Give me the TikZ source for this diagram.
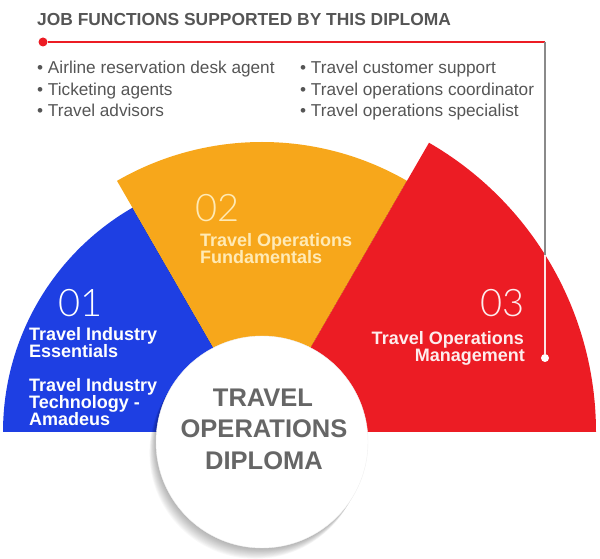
\documentclass[tikz,border=0pt]{standalone}
\usepackage{fontspec}
\setmainfont{Liberation Sans}
\newfontfamily\thinfont{Lato Light}
\usetikzlibrary{calc}
\definecolor{cblue}{HTML}{1E3FE3}
\definecolor{corange}{HTML}{F7A71B}
\definecolor{cred}{HTML}{EC1C24}
\definecolor{ctext}{HTML}{555555}
\definecolor{cpale}{HTML}{FFEAB5}
\definecolor{chub}{HTML}{666666}
\definecolor{cline}{HTML}{8A8A8A}
\tikzset{
  headtext/.style={font=\fontsize{17.4}{20}\selectfont\bfseries, text=ctext, anchor=base west, inner sep=0pt},
  itemtext/.style={font=\fontsize{17.2}{20}\selectfont, text=ctext, anchor=base west, inner sep=0pt},
  numtext/.style={font=\fontsize{38}{40}\thinfont\selectfont, inner sep=0pt},
  labtext/.style={font=\fontsize{18}{17}\selectfont\bfseries, inner sep=0pt},
  hubtext/.style={font=\fontsize{25.5}{30}\selectfont\bfseries, text=chub, anchor=base, inner sep=0pt},
  reddot/.style={circle, fill=cred, minimum size=9pt, inner sep=0pt},
  whitedot/.style={circle, fill=white, minimum size=8pt, inner sep=0pt},
}
\begin{document}
\begin{tikzpicture}[x=1pt,y=1pt]
\useasboundingbox (0,0) rectangle (600,559);
\coordinate (O) at (262,127);
\coordinate (C) at (262,117);

% blue sector
\fill[cblue] (O) -- ++(180:259pt) arc[start angle=180,end angle=120,radius=259pt] -- cycle;
% shadow of orange on blue
\begin{scope}
  \clip (O) -- ++(180:259pt) arc[start angle=180,end angle=120,radius=259pt] -- cycle;
  \foreach \k in {1,...,12} {
    \fill[black,opacity=0.09,shift={(210:1.1*\k pt)}] (O) -- ++(120:400pt) -- ++(400pt,0pt) -- cycle;
  }
\end{scope}
% orange sector
\fill[corange] (O) -- ++(120:290pt) arc[start angle=120,end angle=60,radius=290pt] -- cycle;
% shadow of red on orange
\begin{scope}
  \clip (O) -- ++(120:290pt) arc[start angle=120,end angle=60,radius=290pt] -- cycle;
  \foreach \k in {1,...,12} {
    \fill[black,opacity=0.075,shift={(150:1.3*\k pt)}] (O) -- ++(60:400pt) -- ++(400pt,0pt) -- cycle;
  }
\end{scope}
% red sector
\fill[cred] (O) -- ++(60:334pt) arc[start angle=60,end angle=0,radius=334pt] -- cycle;

% hub circle with soft shadow
\foreach \k in {1,...,12} {
  \fill[black,opacity=0.028] ($(C)+(-0.55*\k pt,-0.9*\k pt)$) circle[radius=106pt];
}
\fill[white] (C) circle[radius=106pt];
\draw[black!6] (C) circle[radius=106pt];

% header
\node[headtext] (head) at (37,533) {JOB FUNCTIONS SUPPORTED BY THIS DIPLOMA};
\node[itemtext] (i1) at (37,485) {• Airline reservation desk agent};
\node[itemtext] (i2) at (37,463.5) {• Ticketing agents};
\node[itemtext] (i3) at (37,442) {• Travel advisors};
\node[itemtext] (i4) at (300,485) {• Travel customer support};
\node[itemtext] (i5) at (300,463.5) {• Travel operations coordinator};
\node[itemtext] (i6) at (300,442) {• Travel operations specialist};

% connector
\node[reddot] (rd) at (43,517) {};
\coordinate (corner) at (545,517);
\coordinate (enter) at (545,304);
\node[whitedot] (wd) at (545,201) {};
\draw[cred, line width=2pt] (rd) -- (corner);
\draw[cline, line width=1.2pt] (corner) -- (enter);
\draw[white!88!cred, line width=1.2pt] (enter) -- (wd);

% blue texts
\node[numtext, text=white, anchor=base west] (n1) at (58,242) {01};
\node[labtext, text=white, anchor=base west] (b1) at (29,218) {Travel Industry};
\node[labtext, text=white, anchor=base west] (b2) at (29,201) {Essentials};
\node[labtext, text=white, anchor=base west] (b3) at (29,167) {Travel Industry};
\node[labtext, text=white, anchor=base west] (b4) at (29,150) {Technology -};
\node[labtext, text=white, anchor=base west] (b5) at (29,133) {Amadeus};

% orange texts
\node[numtext, text=cpale, anchor=base west] (n2) at (195,337) {02};
\node[labtext, text=cpale, anchor=base west] (o1) at (200,312) {Travel Operations};
\node[labtext, text=cpale, anchor=base west] (o2) at (200,295) {Fundamentals};

% red texts
\node[numtext, text=white!92!cred, anchor=base east] (n3) at (525,242) {03};
\node[labtext, text=white!92!cred, anchor=base east] (r1) at (524,214) {Travel Operations};
\node[labtext, text=white!92!cred, anchor=base east] (r2) at (525,197) {Management};

% hub text
\node[hubtext] (h1) at (263,152) {TRAVEL};
\node[hubtext] (h2) at (264,121) {OPERATIONS};
\node[hubtext] (h3) at (264,89) {DIPLOMA};
\end{tikzpicture}
\end{document}
